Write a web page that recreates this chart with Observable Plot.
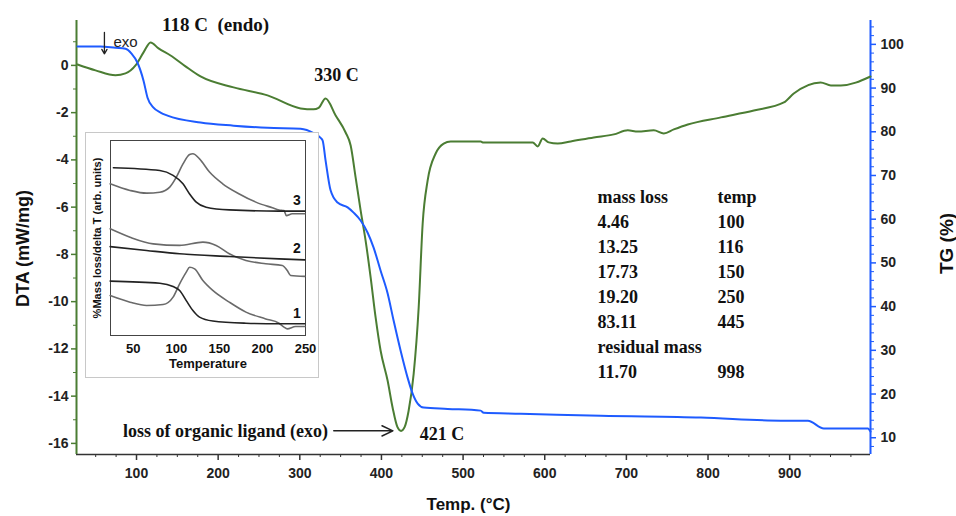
<!DOCTYPE html>
<html>
<head>
<meta charset="utf-8">
<script src="https://cdn.jsdelivr.net/npm/d3@7"></script>
<script src="https://cdn.jsdelivr.net/npm/@observablehq/plot@0.6"></script>
<style>
  body { margin: 0; background: white; }
  #wrap { position: relative; width: 956px; height: 516px; overflow: hidden; }
  #inset { position: absolute; left: 86px; top: 133px; }
  #inset svg { outline: 1px solid #c8c8c8; }
</style>
</head>
<body>
<div id="wrap"><div id="main"></div><div id="inset"></div></div>
<script>
// ---------- data ----------
// DTA curve: [temperature °C, DTA mW/mg]
const dtaSeries = [
  [27.7, 0.04], [49.8, -0.21], [74.3, -0.42], [86.5, -0.34], [98.8, 0.0], [108.6, 0.55],
  [117.2, 0.97], [127, 0.72], [141.7, 0.42], [160, -0.04], [178.4, -0.47], [218.9, -0.93],
  [260.5, -1.27], [301, -1.82], [316.9, -1.86], [323, -1.80], [331.6, -1.40], [343.9, -2.12],
  [356.1, -2.84], [362.3, -3.39], [368.4, -4.75], [374.5, -6.14], [380.6, -7.42], [386.8, -8.98],
  [392.9, -10.68], [399, -12.08], [407.6, -13.35], [413.7, -14.49], [419.5, -15.30], [424, -15.47],
  [428.5, -15.30], [433.3, -14.62], [439.5, -13.05], [445.6, -10.25], [450.5, -6.69], [456.6, -4.87],
  [466.4, -3.73], [476.2, -3.31], [484.8, -3.22], [521.6, -3.22], [524, -3.26], [585.3, -3.26],
  [591.4, -3.43], [597.5, -3.09], [604.9, -3.26], [615.9, -3.31], [631.9, -3.22], [660, -3.05],
  [684.6, -2.92], [701.7, -2.75], [714, -2.80], [733.6, -2.75], [745.8, -2.88], [758.1, -2.71],
  [775.2, -2.50], [815.7, -2.20], [856.1, -1.91], [892.9, -1.57], [905, -1.19], [938, -0.72],
  [950.5, -0.85], [962.7, -0.85], [999, -0.47]
];
// TG curve: [temperature °C, mass %]
const tgSeries = [
  [27.7, 99.5], [55.9, 99.5], [74.3, 99.2], [86.5, 99.0], [93.9, 97.9], [101.2, 95.8],
  [108.6, 91.7], [113.5, 87.8], [120.8, 85.5], [129.4, 84.4], [138, 83.7], [178.4, 82.1],
  [218.9, 81.4], [260.5, 80.9], [301, 80.7], [316.9, 79.7], [325.5, 78.6], [328, 78.0],
  [331.6, 73.4], [337.7, 66.6], [346.3, 63.8], [358.6, 62.7], [365.9, 61.5], [374.5, 59.7],
  [383.1, 56.9], [390.4, 53.5], [399, 48.2], [407.6, 43.0], [414.9, 36.8], [423.5, 29.9],
  [432.1, 23.7], [438.2, 20.1], [444.4, 17.8], [451.7, 16.9], [481.1, 16.6], [521.6, 16.2],
  [525.2, 15.7], [570.6, 15.5], [668.6, 15.0], [791.2, 14.6], [889.2, 13.9], [922.3, 13.9],
  [941.9, 12.1], [995.8, 12.1], [999, 11.4]
];
// table of mass losses
const massLoss = ["4.46", "13.25", "17.73", "19.20", "83.11"];
const lossTemp = ["100", "116", "150", "250", "445"];
const residualMass = "11.70";
const residualTemp = "998";

// axis ticks
const xTicks = [100, 200, 300, 400, 500, 600, 700, 800, 900];
const dtaTicks = [-16, -14, -12, -10, -8, -6, -4, -2, 0];
const tgTicks = [10, 20, 30, 40, 50, 60, 70, 80, 90, 100];

// inset curves: [temperature, arbitrary units]
const inset3TG = [[26.9, 86.0], [80.8, 84.6], [96.2, 82.1], [107.7, 77.8], [115.4, 72.6], [123.1, 68.4], [134.6, 65.8], [161.5, 64.4], [219.2, 63.8], [249.2, 63.8]];
const inset3DTA = [[23.1, 77.8], [46.2, 74.4], [65.4, 73.0], [80.8, 73.5], [92.3, 76.1], [100, 81.2], [107.7, 88.0], [115.4, 92.8], [119.2, 93.2], [126.9, 90.6], [138.5, 83.8], [153.8, 77.8], [173.1, 72.6], [192.3, 68.4], [211.5, 65.5], [219.2, 64.4], [225, 64.1], [227.7, 61.5], [234.6, 62.4], [249.2, 62.4]];
const inset2DTA = [[23.1, 54.7], [46.2, 50.4], [73.1, 47.0], [103.8, 46.2], [130.8, 47.9], [146.2, 46.2], [161.5, 41.9], [180.8, 38.5], [203.8, 36.8], [223.1, 35.9], [228.8, 33.3], [232.7, 30.8], [249.2, 30.3]];
const inset2TG = [[23.1, 45.6], [65.4, 43.6], [103.8, 41.9], [161.5, 40.5], [219.2, 39.3], [249.2, 38.8]];
const inset1TG = [[23.1, 27.9], [80.8, 26.8], [96.2, 25.1], [103.8, 23.1], [111.5, 17.9], [119.2, 12.8], [126.9, 9.4], [142.3, 7.4], [180.8, 6.3], [219.2, 6.0], [249.2, 6.0]];
const inset1DTA = [[23.1, 20.5], [46.2, 17.1], [65.4, 15.4], [84.6, 15.9], [96.2, 19.7], [103.8, 26.5], [111.5, 32.5], [115.4, 35.0], [121.2, 34.2], [130.8, 28.2], [142.3, 23.1], [161.5, 17.1], [180.8, 12.0], [203.8, 8.5], [219.2, 6.3], [225, 4.3], [228.8, 3.4], [238.5, 4.6], [249.2, 4.6]];
const insetLabels = [["3", 240, 69.2], ["2", 240, 44.4], ["1", 240, 11.4]];
const insetTicks = [50, 100, 150, 200, 250];

// ---------- styling ----------
const green = "#4b7d33";
const blue = "#1e5bff";
const ink = "#222";
const serif = "'Liberation Serif', 'Times New Roman', serif";
const sans = "'Liberation Sans', Arial, sans-serif";

const xDomain = [26.5, 999];
const yDomain = [-16.47, 1.9];
// TG (%) shares the DTA frame through a linear mapping onto the DTA scale
const toY = tg => 0.89 + (tg - 100) * 0.185;
const fromY = y => 100 + (y - 0.89) / 0.185;

const dtaMinor = d3.range(-15, 2, 2);
const tgMinor = d3.range(8, 105, 2).filter(v => v % 10 !== 0);
const xMinor = d3.range(50, 1000, 25).filter(v => v % 100 !== 0);

const dta = dtaSeries.map(([T, v]) => ({T, v}));
const tg = tgSeries.map(([T, v]) => ({T, v}));
const dtaPeak = dta.reduce((a, b) => (b.T < 200 && b.v > a.v ? b : a));
const dtaPeak2 = dta.find(d => d.T > 330 && d.T < 333);
const dtaMin = dta.reduce((a, b) => (b.v < a.v ? b : a));

const tableLeft = ["mass loss", ...massLoss, "residual mass", residualMass].join("\n");
const tableRight = ["temp", ...lossTemp, "", residualTemp].join("\n");

const main = Plot.plot({
  width: 956, height: 516,
  marginLeft: 76, marginRight: 86, marginTop: 20, marginBottom: 62,
  x: {domain: xDomain},
  y: {domain: yDomain},
  style: {background: "white", fontFamily: sans, overflow: "visible"},
  marks: [
    Plot.ruleY([yDomain[0]], {stroke: "#333", strokeWidth: 1.5}),
    Plot.ruleX([xDomain[0]], {stroke: green, strokeWidth: 2}),
    Plot.ruleX([xDomain[1]], {stroke: blue, strokeWidth: 2}),
    Plot.axisY(dtaTicks, {anchor: "left", tickSize: 5, tickPadding: 3, stroke: green, strokeWidth: 1.5, color: ink, fontSize: 14, fontWeight: "bold", label: null, tickFormat: d => d}),
    Plot.axisY(dtaMinor, {anchor: "left", tickSize: 3, stroke: green, tickFormat: () => "", label: null}),
    Plot.axisY(tgTicks.map(toY), {anchor: "right", tickSize: 5, tickPadding: 5, stroke: blue, strokeWidth: 1.5, color: ink, fontSize: 14, fontWeight: "bold", label: null, tickFormat: d => Math.round(fromY(d))}),
    Plot.axisY(tgMinor.map(toY), {anchor: "right", tickSize: 3, stroke: blue, tickFormat: () => "", label: null}),
    Plot.axisX(xTicks, {tickSize: 6, tickPadding: 8, stroke: "#333", strokeWidth: 1.5, color: ink, fontSize: 14, fontWeight: "bold", label: null}),
    Plot.axisX(xMinor, {tickSize: 3, stroke: "#333", tickFormat: () => "", label: null}),
    Plot.line(dta, {x: "T", y: "v", stroke: green, strokeWidth: 2, curve: "monotone-x"}),
    Plot.line(tg, {x: "T", y: d => toY(d.v), stroke: blue, strokeWidth: 2, curve: "monotone-x"}),
    // axis titles
    Plot.text(["DTA (mW/mg)"], {frameAnchor: "left", textAnchor: "middle", lineAnchor: "middle", rotate: -90, dx: -53, dy: 11, fontSize: 18, fontWeight: "bold", fill: "#111"}),
    Plot.text(["TG (%)"], {frameAnchor: "right", textAnchor: "middle", lineAnchor: "middle", rotate: -90, dx: 76, dy: 6, fontSize: 19, fontWeight: "bold", fill: "#111"}),
    Plot.text(["Temp. (°C)"], {frameAnchor: "bottom", textAnchor: "middle", lineAnchor: "middle", dx: -5, dy: 50, fontSize: 17, fontWeight: "bold", fill: "#111"}),
    // annotations
    Plot.text([dtaPeak], {x: "T", y: "v", text: () => "118 C  (endo)", dx: 65, dy: -18, lineAnchor: "middle", fontFamily: serif, fontSize: 19, fontWeight: "bold", fill: "#111"}),
    Plot.text([dtaPeak2], {x: "T", y: "v", text: () => "330 C", dx: 11, dy: -23, lineAnchor: "middle", fontFamily: serif, fontSize: 18, fontWeight: "bold", fill: "#111"}),
    Plot.text([dtaMin], {x: "T", y: "v", text: () => "421 C", dx: 41, dy: 3, lineAnchor: "middle", fontFamily: serif, fontSize: 18, fontWeight: "bold", fill: "#111"}),
    Plot.text([dtaMin], {x: "T", y: "v", text: () => "loss of organic ligand (exo)", dx: -73, dy: 0, textAnchor: "end", lineAnchor: "middle", fontFamily: serif, fontSize: 18, fontWeight: "bold", fill: "#111"}),
    Plot.arrow([dtaMin], {x1: d => d.T - 82.4, y1: "v", x2: d => d.T - 10, y2: "v", stroke: "#222", strokeWidth: 1.5, headLength: 12, headAngle: 50}),
    Plot.arrow([dta[0]], {x1: d => d.T + 33, y1: d => d.v + 1.36, x2: d => d.T + 33, y2: d => d.v + 0.45, stroke: "#222", strokeWidth: 1.3, headLength: 6, headAngle: 60}),
    Plot.text([dta[0]], {x: d => d.T + 44, y: d => d.v + 0.93, text: () => "exo", textAnchor: "start", lineAnchor: "middle", fontSize: 15, fill: "#222"}),
    // mass-loss table
    Plot.text([tableLeft], {frameAnchor: "top-left", dx: 521, dy: 165, textAnchor: "start", lineAnchor: "top", lineHeight: 1.385, fontFamily: serif, fontSize: 18, fontWeight: "bold", fill: "#111"}),
    Plot.text([tableRight], {frameAnchor: "top-left", dx: 641, dy: 165, textAnchor: "start", lineAnchor: "top", lineHeight: 1.385, fontFamily: serif, fontSize: 18, fontWeight: "bold", fill: "#111"})
  ]
});
document.getElementById("main").appendChild(main);

const pts = a => a.map(([T, v]) => ({T, v}));
const inset = Plot.plot({
  width: 232, height: 244,
  marginLeft: 24, marginTop: 7, marginRight: 13, marginBottom: 42,
  x: {domain: [23.5, 250]},
  y: {domain: [0, 100], axis: null},
  style: {background: "white", fontFamily: sans},
  marks: [
    Plot.frame({stroke: "#444"}),
    Plot.line(pts(inset3DTA), {x: "T", y: "v", stroke: "#6a6a6a", strokeWidth: 1.6, curve: "monotone-x"}),
    Plot.line(pts(inset3TG), {x: "T", y: "v", stroke: "#222", strokeWidth: 1.6, curve: "monotone-x"}),
    Plot.line(pts(inset2DTA), {x: "T", y: "v", stroke: "#6a6a6a", strokeWidth: 1.6, curve: "monotone-x"}),
    Plot.line(pts(inset2TG), {x: "T", y: "v", stroke: "#222", strokeWidth: 1.6, curve: "monotone-x"}),
    Plot.line(pts(inset1DTA), {x: "T", y: "v", stroke: "#6a6a6a", strokeWidth: 1.6, curve: "monotone-x"}),
    Plot.line(pts(inset1TG), {x: "T", y: "v", stroke: "#222", strokeWidth: 1.6, curve: "monotone-x"}),
    Plot.text(insetLabels, {x: d => d[1], y: d => d[2], text: d => d[0], fontSize: 14, fontWeight: "bold", fill: "#111"}),
    Plot.axisX(insetTicks, {tickSize: 0, tickPadding: 8, fontSize: 13, fontWeight: "bold", color: "#111", label: null}),
    Plot.text(["Temperature"], {frameAnchor: "bottom", lineAnchor: "middle", dy: 28, fontSize: 13, fontWeight: "bold", fill: "#111"}),
    Plot.text(["%Mass loss/delta T (arb. units)"], {frameAnchor: "left", textAnchor: "middle", rotate: -90, dx: -13, lineAnchor: "middle", fontSize: 11, fontWeight: "bold", fill: "#111"})
  ]
});
document.getElementById("inset").appendChild(inset);
</script>
</body>
</html>
